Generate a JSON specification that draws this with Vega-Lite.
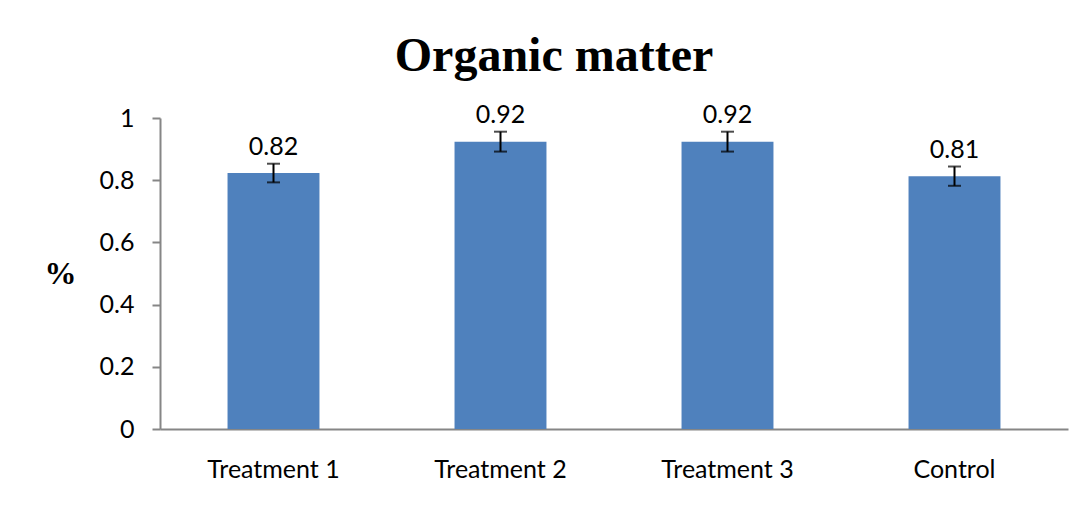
{
  "$schema": "https://vega.github.io/schema/vega-lite/v6.json",
  "width": 908,
  "height": 311,
  "autosize": {"type": "none"},
  "padding": {"left": 160, "top": 118, "right": 21, "bottom": 83},
  "background": "white",
  "title": {
    "text": "Organic matter",
    "font": "Liberation Serif",
    "fontSize": 48,
    "fontWeight": "bold",
    "color": "black",
    "anchor": "middle",
    "dx": -60,
    "offset": 22
  },
  "data": {
    "values": [
      {"group": "Treatment 1", "value": 0.823, "lo": 0.793, "hi": 0.853},
      {"group": "Treatment 2", "value": 0.924, "lo": 0.892, "hi": 0.956},
      {"group": "Treatment 3", "value": 0.924, "lo": 0.892, "hi": 0.956},
      {"group": "Control", "value": 0.813, "lo": 0.782, "hi": 0.844}
    ]
  },
  "encoding": {
    "x": {
      "field": "group",
      "type": "nominal",
      "sort": null,
      "scale": {"paddingInner": 0.595, "paddingOuter": 0.2975},
      "axis": {
        "title": null,
        "labelAngle": 0,
        "ticks": false,
        "labelFont": "Lato",
        "labelFontSize": 25,
        "labelColor": "black",
        "labelPadding": 28,
        "domainColor": "#868686",
        "domainWidth": 2
      }
    }
  },
  "layer": [
    {
      "mark": {"type": "bar", "color": "#4F81BD"},
      "encoding": {
        "y": {
          "field": "value",
          "type": "quantitative",
          "title": "%",
          "scale": {"domain": [0, 1], "nice": false},
          "axis": {
            "title": "%",
            "titleAngle": 0,
            "titleFont": "Liberation Serif",
            "titleFontSize": 32,
            "titleFontWeight": "bold",
            "titleColor": "black",
            "titleAlign": "right",
            "titleBaseline": "middle",
            "titleX": -84,
            "titleY": 155,
            "values": [0, 0.2, 0.4, 0.6, 0.8, 1],
            "format": "~g",
            "grid": false,
            "tickSize": 8,
            "tickColor": "#868686",
            "tickWidth": 2,
            "domainColor": "#868686",
            "domainWidth": 2,
            "labelFont": "Lato",
            "labelFontSize": 25,
            "labelColor": "black",
            "labelPadding": 18
          }
        }
      }
    },
    {
      "mark": {
        "type": "errorbar",
        "ticks": {"size": 13, "thickness": 2, "color": "black"},
        "rule": {"strokeWidth": 2, "color": "black"}
      },
      "encoding": {
        "y": {"field": "lo", "type": "quantitative", "title": "%"},
        "y2": {"field": "hi"}
      }
    },
    {
      "mark": {
        "type": "text",
        "font": "Lato",
        "fontSize": 25,
        "color": "black",
        "baseline": "alphabetic",
        "dy": -9
      },
      "encoding": {
        "y": {"field": "hi", "type": "quantitative", "title": "%"},
        "text": {"field": "value", "type": "quantitative", "format": ".2f"}
      }
    }
  ],
  "config": {
    "view": {"stroke": null}
  }
}
